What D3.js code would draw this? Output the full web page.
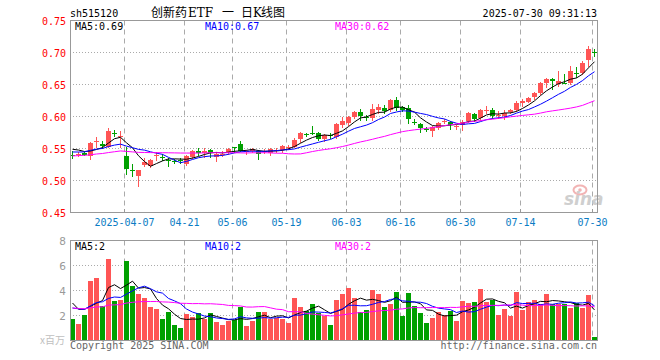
<!DOCTYPE html>
<html><head><meta charset="utf-8">
<script src="https://cdn.jsdelivr.net/npm/d3@7/dist/d3.min.js"></script>
<style>
html,body{margin:0;padding:0;background:#fff;}
svg{display:block;}
.mono{font-family:"DejaVu Sans Mono","Liberation Mono",monospace;font-size:10px;}
</style></head>
<body><svg id="c" width="660" height="360"></svg>
<script>
const code = "sh515120";
// title pieces: [text, isLatin]
const titleParts = [["创新药", false], ["ETF", true], ["一", false], ["日", false], ["K", true], ["线图", false]];
const stamp = "2025-07-30 09:31:13";
const dates = ["2025-03-24","2025-03-25","2025-03-26","2025-03-27","2025-03-28","2025-03-31",
"2025-04-01","2025-04-02","2025-04-03","2025-04-07","2025-04-08","2025-04-09","2025-04-10","2025-04-11",
"2025-04-14","2025-04-15","2025-04-16","2025-04-17","2025-04-18","2025-04-21","2025-04-22","2025-04-23","2025-04-24","2025-04-25","2025-04-28","2025-04-29","2025-04-30",
"2025-05-06","2025-05-07","2025-05-08","2025-05-09","2025-05-12","2025-05-13","2025-05-14","2025-05-15","2025-05-16","2025-05-19","2025-05-20","2025-05-21","2025-05-22","2025-05-23","2025-05-26","2025-05-27","2025-05-28","2025-05-29","2025-05-30",
"2025-06-03","2025-06-04","2025-06-05","2025-06-06","2025-06-09","2025-06-10","2025-06-11","2025-06-12","2025-06-13","2025-06-16","2025-06-17","2025-06-18","2025-06-19","2025-06-20","2025-06-23","2025-06-24","2025-06-25","2025-06-26","2025-06-27","2025-06-30",
"2025-07-01","2025-07-02","2025-07-03","2025-07-04","2025-07-07","2025-07-08","2025-07-09","2025-07-10","2025-07-11","2025-07-14","2025-07-15","2025-07-16","2025-07-17","2025-07-18","2025-07-21","2025-07-22","2025-07-23","2025-07-24","2025-07-25","2025-07-28","2025-07-29","2025-07-30"];
const opens = [
.5405,.5415,.5430,.5390,.5600,.5577,.5530,.5750,.5690,.5378,
.5165,.5070,.5240,.5226,.5390,.5372,.5325,.5310,.5318,.5260,
.5370,.5456,.5425,.5470,.5380,.5415,.5436,.5524,.5576,.5450,
.5456,.5456,.5455,.5420,.5465,.5467,.5520,.5534,.5644,.5722,
.5745,.5743,.5644,.5708,.5680,.5864,.5890,.5990,.6070,.5985,
.5969,.6100,.6140,.6100,.6255,.6150,.6125,.5912,.5880,.5805,
.5765,.5833,.5925,.5915,.5840,.5870,.5920,.6036,.5964,.6090,
.6105,.6012,.6000,.6068,.6105,.6210,.6235,.6314,.6361,.6517,
.6582,.6501,.6529,.6532,.6687,.6682,.6875,.7010];
const closes = [
.5400,.5420,.5405,.5590,.5610,.5545,.5780,.5740,.5700,.5180,
.5155,.5158,.5290,.5326,.5395,.5362,.5310,.5298,.5308,.5380,
.5460,.5430,.5456,.5430,.5420,.5420,.5490,.5520,.5470,.5456,
.5490,.5404,.5460,.5487,.5470,.5534,.5524,.5640,.5743,.5714,
.5738,.5655,.5705,.5700,.5890,.5926,.5990,.6070,.6010,.5975,
.6114,.6150,.6090,.6255,.6125,.6110,.5950,.5902,.5810,.5798,
.5833,.5906,.5930,.5865,.5845,.5920,.6050,.5964,.6094,.6095,
.6016,.6017,.6050,.6105,.6210,.6246,.6290,.6370,.6517,.6582,
.6544,.6554,.6521,.6712,.6680,.6839,.7047,.7002];
const highs = [
.5455,.5445,.5445,.5600,.5680,.5613,.5820,.5790,.5766,.5520,
.5263,.5170,.5351,.5340,.5445,.5420,.5345,.5330,.5350,.5400,
.5480,.5514,.5500,.5490,.5440,.5460,.5510,.5530,.5620,.5480,
.5510,.5470,.5490,.5500,.5500,.5550,.5550,.5660,.5760,.5750,
.5848,.5760,.5720,.5740,.5900,.5994,.6010,.6090,.6110,.6020,
.6190,.6190,.6180,.6270,.6300,.6170,.6177,.5960,.5900,.5830,
.5850,.5920,.5960,.5930,.5870,.5940,.6070,.6060,.6110,.6160,
.6130,.6080,.6100,.6120,.6240,.6280,.6310,.6380,.6534,.6594,
.6594,.6704,.6661,.6782,.6780,.6862,.7099,.7047];
const lows = [
.5346,.5390,.5395,.5340,.5530,.5500,.5520,.5691,.5519,.5106,
.5069,.4912,.5221,.5210,.5315,.5320,.5230,.5270,.5280,.5240,
.5350,.5393,.5360,.5360,.5300,.5390,.5420,.5450,.5460,.5420,
.5440,.5330,.5430,.5400,.5440,.5450,.5490,.5520,.5600,.5690,
.5730,.5640,.5620,.5670,.5660,.5837,.5870,.5970,.5953,.5940,
.5950,.6060,.6050,.6080,.6100,.6090,.5900,.5880,.5765,.5770,
.5700,.5810,.5900,.5810,.5810,.5790,.5910,.5930,.5950,.6050,
.5970,.5970,.5960,.6050,.6080,.6160,.6220,.6280,.6344,.6464,
.6424,.6484,.6520,.6512,.6612,.6662,.6792,.6952];
const volumes = [
1.71,1.34,2.06,4.78,5.02,2.78,6.54,3.18,3.26,6.38,
4.38,3.74,3.42,2.72,2.54,1.74,2.27,1.26,0.99,2.14,
1.92,2.22,1.76,2.22,1.50,1.28,1.60,1.66,2.72,1.20,
1.60,2.30,2.30,1.71,1.84,1.74,1.44,3.44,2.72,2.40,
2.94,2.22,2.00,1.26,3.26,3.74,4.22,3.42,2.30,2.46,
4.06,3.74,2.70,2.94,3.90,2.00,3.82,2.78,2.22,1.42,
1.82,2.30,2.06,2.38,1.58,3.18,3.02,3.10,4.14,3.10,
3.26,2.06,2.54,2.00,3.90,2.46,3.10,3.26,2.94,3.74,
2.94,2.94,2.94,2.62,3.02,2.62,3.66,0.30];
// closes / volumes of the 29 sessions before the first shown day (for moving averages)
const priorCloses = [.525,.528,.531,.527,.530,.534,.536,.533,.538,.540,.537,.535,.539,.541,.538,.536,.534,.537,.540,.545,
.543,.538,.536,.541,.544,.548,.552,.555,.549];
const priorVolumes = [2.4,2.8,2.5,2.9,2.6,2.3,2.7,2.5,2.8,2.6,2.4,2.9,2.7,2.5,2.6,2.8,2.4,2.6,2.5,2.5,
2.0,2.5,1.9,2.4,2.2,3.84,2.06,3.6,3.79];
const priceTicks = [0.45,0.50,0.55,0.60,0.65,0.70,0.75];
const volTicks = [2,4,6,8];
const tickDates = ["2025-04-07","2025-04-21","2025-05-06","2025-05-19","2025-06-03","2025-06-16","2025-06-30","2025-07-14","2025-07-30"];
const tickLabels = ["2025-04-07","04-21","05-06","05-19","06-03","06-16","06-30","07-14","07-30"];
const maPeriods = [5,10,30];
const maColors = ["#000000","#0000ff","#ff00ff"];

const RED = "#ff5555", GREEN = "#00a000";
const svg = d3.select("#c");
const L = 70, R = 598;
const x = d3.scaleBand().domain(dates).range([L, R]).paddingInner(0).paddingOuter(0);
const bw = x.bandwidth();
const y = d3.scaleLinear().domain([0.45, 0.75]).range([212.5, 20.5]);
const yv = d3.scaleLinear().domain([0, 8]).range([340.5, 240.5]);

function movingAvg(vals, prior, n) {
  const all = prior.concat(vals);
  return vals.map((v, i) => {
    const idx = prior.length + i;
    return d3.mean(all.slice(idx - n + 1, idx + 1));
  });
}

// ----- grids -----
function panelGrid(ys, yTop, yBot, hVals) {
  const g = svg.append("g");
  g.selectAll("line.h").data(hVals).join("line")
    .attr("x1", L).attr("x2", R - 0.5)
    .attr("y1", d => ys(d)).attr("y2", d => ys(d))
    .attr("stroke", "#aaaaaa").attr("stroke-dasharray", "1,2");
  g.selectAll("line.v").data(tickDates).join("line")
    .attr("x1", d => x(d) + 0.5).attr("x2", d => x(d) + 0.5)
    .attr("y1", yTop).attr("y2", yBot)
    .attr("stroke", "#aaaaaa").attr("stroke-dasharray", "5,4");
}
panelGrid(y, 20.5, 212.5, [0.50, 0.55, 0.60, 0.65, 0.70]);
panelGrid(yv, 240.5, 340.5, [2, 4, 6]);

// watermark
const wm = svg.append("g");
wm.append("ellipse").attr("cx", 580).attr("cy", 190).attr("rx", 6.5).attr("ry", 4.5)
  .attr("fill", "none").attr("stroke", "#f2b4b4").attr("stroke-width", 2);
wm.append("circle").attr("cx", 580).attr("cy", 190).attr("r", 1.8).attr("fill", "#f2b4b4");
wm.append("text").attr("x", 564).attr("y", 205).text("sina")
  .attr("font-family", "DejaVu Sans, sans-serif").attr("font-size", 17).attr("font-weight", "bold")
  .attr("font-style", "italic").attr("fill", "#cfcfcf");

// ----- candles -----
const data = dates.map((d, i) => ({d, o: opens[i], h: highs[i], l: lows[i], c: closes[i], v: volumes[i]}));
const col = d => d.c >= d.o ? RED : GREEN;
const cg = svg.append("g");
cg.selectAll("line.w").data(data).join("line")
  .attr("x1", d => x(d.d) + 2.5).attr("x2", d => x(d.d) + 2.5)
  .attr("y1", d => Math.round(y(d.h))).attr("y2", d => Math.round(y(d.l)) + 1)
  .attr("stroke", col).attr("stroke-width", 1);
cg.selectAll("rect.b").data(data).join("rect")
  .attr("x", d => x(d.d)).attr("width", bw - 1)
  .attr("y", d => Math.round(y(Math.max(d.o, d.c))))
  .attr("height", d => Math.max(1, Math.round(Math.abs(y(d.o) - y(d.c)))))
  .attr("fill", col);

// ----- MA lines (price) -----
const priceMA = maPeriods.map(n => movingAvg(closes, priorCloses, n));
priceMA.forEach((arr, k) => {
  svg.append("path").datum(arr)
    .attr("d", d3.line().x((v, i) => x(dates[i]) + 2.5).y(v => y(v)))
    .attr("fill", "none").attr("stroke", maColors[k]).attr("stroke-width", 1);
});

// ----- volume bars -----
svg.append("g").selectAll("rect").data(data).join("rect")
  .attr("x", d => x(d.d)).attr("width", bw - 1)
  .attr("y", d => Math.round(yv(d.v))).attr("height", d => yv(0) - Math.round(yv(d.v)))
  .attr("fill", col);
const volMA = maPeriods.map(n => movingAvg(volumes, priorVolumes, n));
volMA.forEach((arr, k) => {
  svg.append("path").datum(arr)
    .attr("d", d3.line().x((v, i) => x(dates[i]) + 2.5).y(v => yv(v)))
    .attr("fill", "none").attr("stroke", maColors[k]).attr("stroke-width", 1);
});

// ----- frames -----
svg.append("rect").attr("x", L + 0.5).attr("y", 20.5).attr("width", R - L - 1).attr("height", 192)
  .attr("fill", "none").attr("stroke", "#999999");
svg.append("rect").attr("x", L + 0.5).attr("y", 240.5).attr("width", R - L - 1).attr("height", 100)
  .attr("fill", "none").attr("stroke", "#999999");

// x ticks & labels
svg.append("g").selectAll("line").data(tickDates).join("line")
  .attr("x1", d => x(d) + 0.5).attr("x2", d => x(d) + 0.5).attr("y1", 209).attr("y2", 212)
  .attr("stroke", "#999999");
svg.append("g").selectAll("text").data(tickDates).join("text")
  .attr("class", "mono").attr("x", d => x(d) + 0.5).attr("y", 226)
  .attr("text-anchor", "middle").attr("fill", "#0a7cc4")
  .text((d, i) => tickLabels[i]);

// y labels price
svg.append("g").selectAll("text").data(priceTicks).join("text")
  .attr("class", "mono").attr("x", 66).attr("y", d => y(d) + 4)
  .attr("text-anchor", "end").attr("fill", "#ff0000")
  .text(d => d3.format(".2f")(d));
// y labels volume
svg.append("g").selectAll("text").data(volTicks).join("text")
  .attr("x", 66).attr("y", d => yv(d) + 4).attr("text-anchor", "end")
  .attr("font-family", "DejaVu Sans, sans-serif").attr("font-size", 10.5).attr("fill", "#999999")
  .text(d => d);
svg.append("text").attr("x", 65).attr("y", 344).attr("text-anchor", "end")
  .attr("font-family", "Noto Sans CJK SC, sans-serif").attr("font-size", 10).attr("fill", "#c0c0c0")
  .text("x百万");

// header
svg.append("text").attr("class", "mono").attr("x", 70).attr("y", 17).attr("fill", "#000").text(code);
const titleX = [151, 188, 222, 241, 253, 261];
const tt = svg.append("text").attr("y", 17).attr("font-size", 12).attr("fill", "#000");
titleParts.forEach((p, i) => tt.append("tspan").attr("x", titleX[i])
  .attr("font-family", p[1] ? "DejaVu Serif, serif" : "Noto Sans CJK SC, sans-serif").text(p[0]));
svg.append("text").attr("class", "mono").attr("x", 597).attr("y", 17).attr("text-anchor", "end")
  .attr("fill", "#000").text(stamp);

const maX = [75, 205, 335];
maPeriods.forEach((n, k) => {
  const pv = priceMA[k][priceMA[k].length - 1];
  svg.append("text").attr("class", "mono").attr("x", maX[k]).attr("y", 30).attr("fill", maColors[k])
    .text("MA" + n + ":" + d3.format(".2f")(pv));
  const vv = volMA[k][volMA[k].length - 1];
  svg.append("text").attr("class", "mono").attr("x", maX[k]).attr("y", 250).attr("fill", maColors[k])
    .text("MA" + n + ":" + Math.floor(vv));
});

// footer
svg.append("text").attr("class", "mono").attr("x", 70).attr("y", 349).attr("fill", "#666666")
  .text("Copyright 2025 SINA.COM");
svg.append("text").attr("class", "mono").attr("x", 597).attr("y", 349).attr("text-anchor", "end")
  .attr("fill", "#666666").text("http://finance.sina.com.cn");
</script></body></html>
